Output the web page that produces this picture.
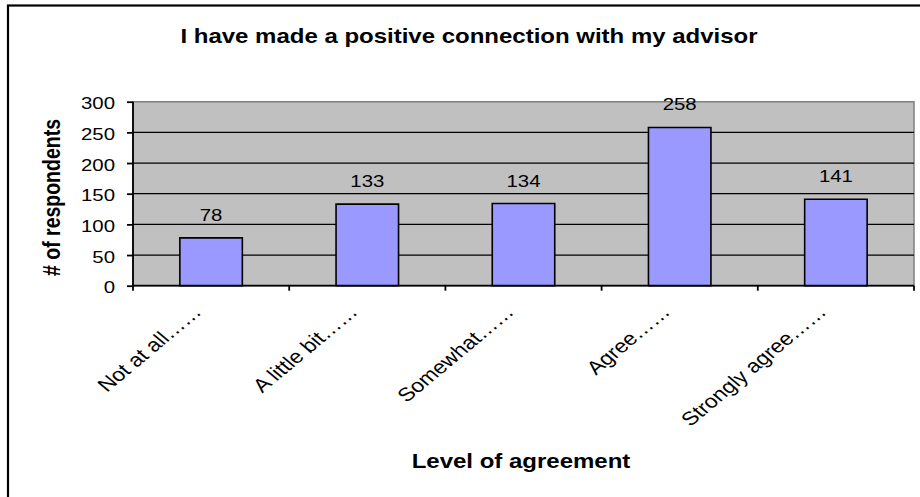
<!DOCTYPE html>
<html>
<head>
<meta charset="utf-8">
<script src="https://cdn.jsdelivr.net/npm/d3@7"></script>
<style>
  body { margin: 0; background: #fff; }
  svg { display: block; }
  text { font-family: 'Liberation Sans', Arial, sans-serif; fill: #000; }
</style>
</head>
<body>
<div id="chart"></div>
<script>
// data
const categories = ['Not at all……', 'A little bit……', 'Somewhat……', 'Agree……', 'Strongly agree……']
const respondents = [78, 133, 134, 258, 141]
const yTicks = [0, 50, 100, 150, 200, 250, 300]
const title = 'I have made a positive connection with my advisor'
const xTitle = 'Level of agreement'
const yTitle = '# of respondents'

const width = 920
const height = 497
// the original picture is stretched sideways, so we draw in a narrower space and scale it
const stretch = 1.2

const svg = d3
  .select('#chart')
  .append('svg')
  .attr('width', width)
  .attr('height', height)

// chart border (cut off at right and bottom like the reference)
svg
  .append('rect')
  .attr('x', 8)
  .attr('y', 5.5)
  .attr('width', 1000)
  .attr('height', 600)
  .attr('fill', '#fff')
  .attr('stroke', '#000')
  .attr('stroke-width', 2.2)

const g = svg.append('g').attr('transform', 'scale(' + stretch + ',1)')

const plot = { left: 133 / stretch, right: 914 / stretch, top: 101.7, bottom: 285.7 }

const xScale = d3
  .scaleBand()
  .domain(categories)
  .range([plot.left, plot.right])
  .paddingInner(0.6)
  .paddingOuter(0.3)

const yScale = d3
  .scaleLinear()
  .domain([0, 300])
  .range([plot.bottom, plot.top])

// plot area
g.append('rect')
  .attr('x', plot.left)
  .attr('y', plot.top)
  .attr('width', plot.right - plot.left)
  .attr('height', plot.bottom - plot.top)
  .attr('fill', '#c0c0c0')
  .attr('stroke', '#808080')
  .attr('stroke-width', 1.5)
  .attr('vector-effect', 'non-scaling-stroke')

// gridlines
g.selectAll('.grid')
  .data(yTicks.filter(d => d > 0 && d < 300))
  .enter()
  .append('line')
  .attr('class', 'grid')
  .attr('x1', plot.left)
  .attr('x2', plot.right)
  .attr('y1', d => yScale(d))
  .attr('y2', d => yScale(d))
  .attr('stroke', '#000')
  .attr('stroke-width', 1.2)
  .attr('vector-effect', 'non-scaling-stroke')

// bars
g.selectAll('.bar')
  .data(respondents)
  .enter()
  .append('rect')
  .attr('class', 'bar')
  .attr('x', (d, i) => xScale(categories[i]))
  .attr('y', d => yScale(d))
  .attr('width', xScale.bandwidth())
  .attr('height', d => yScale(0) - yScale(d))
  .attr('fill', '#9999ff')
  .attr('stroke', '#000')
  .attr('stroke-width', 1.6)
  .attr('vector-effect', 'non-scaling-stroke')

// value labels
g.selectAll('.value')
  .data(respondents)
  .enter()
  .append('text')
  .attr('class', 'value')
  .attr('x', (d, i) => xScale(categories[i]) + xScale.bandwidth() / 2)
  .attr('y', d => yScale(d) - 17)
  .attr('text-anchor', 'middle')
  .attr('font-size', '17px')
  .text(d => d)

// y axis
const yAxis = d3
  .axisLeft(yScale)
  .tickValues(yTicks)
  .tickSize(5)
  .tickPadding(10)

const yAxisG = g
  .append('g')
  .attr('class', 'axis y-axis')
  .attr('transform', 'translate(' + plot.left + ',0)')
  .call(yAxis)

yAxisG.selectAll('path, line')
  .attr('stroke', '#000')
  .attr('stroke-width', 1.8)
  .attr('vector-effect', 'non-scaling-stroke')
yAxisG.select('.domain').attr('d', 'M0,' + plot.top + 'V' + plot.bottom)
yAxisG.selectAll('text')
  .attr('font-size', '17px')
  .attr('font-family', null)
  .attr('dy', '0.42em')

// x axis line and ticks at the category boundaries
g.append('line')
  .attr('x1', plot.left)
  .attr('x2', plot.right)
  .attr('y1', plot.bottom)
  .attr('y2', plot.bottom)
  .attr('stroke', '#000')
  .attr('stroke-width', 1.8)
  .attr('vector-effect', 'non-scaling-stroke')

const boundaries = categories.map(c => xScale(c) - xScale.step() * xScale.paddingOuter())
boundaries.push(plot.right)

g.selectAll('.xtick')
  .data(boundaries)
  .enter()
  .append('line')
  .attr('class', 'xtick')
  .attr('x1', d => d)
  .attr('x2', d => d)
  .attr('y1', plot.bottom)
  .attr('y2', plot.bottom + 5)
  .attr('stroke', '#000')
  .attr('stroke-width', 1.8)
  .attr('vector-effect', 'non-scaling-stroke')

// category labels, rotated
g.selectAll('.xlabel')
  .data(categories)
  .enter()
  .append('text')
  .attr('class', 'xlabel')
  .attr('transform', d => 'translate(' + (xScale(d) + xScale.bandwidth() / 2 - 7) + ',' + 313 + ') rotate(-45)')
  .attr('text-anchor', 'end')
  .attr('font-size', '19px')
  .text(d => d)

// titles
g.append('text')
  .attr('x', 469 / stretch)
  .attr('y', 43)
  .attr('text-anchor', 'middle')
  .attr('font-size', '20px')
  .attr('font-weight', 'bold')
  .text(title)

g.append('text')
  .attr('x', 521 / stretch)
  .attr('y', 468)
  .attr('text-anchor', 'middle')
  .attr('font-size', '20px')
  .attr('font-weight', 'bold')
  .text(xTitle)

g.append('text')
  .attr('transform', 'translate(' + 60 / stretch + ',197.5) rotate(-90)')
  .attr('text-anchor', 'middle')
  .attr('font-size', '19.5px')
  .attr('font-weight', 'bold')
  .text(yTitle)
</script>
</body>
</html>
